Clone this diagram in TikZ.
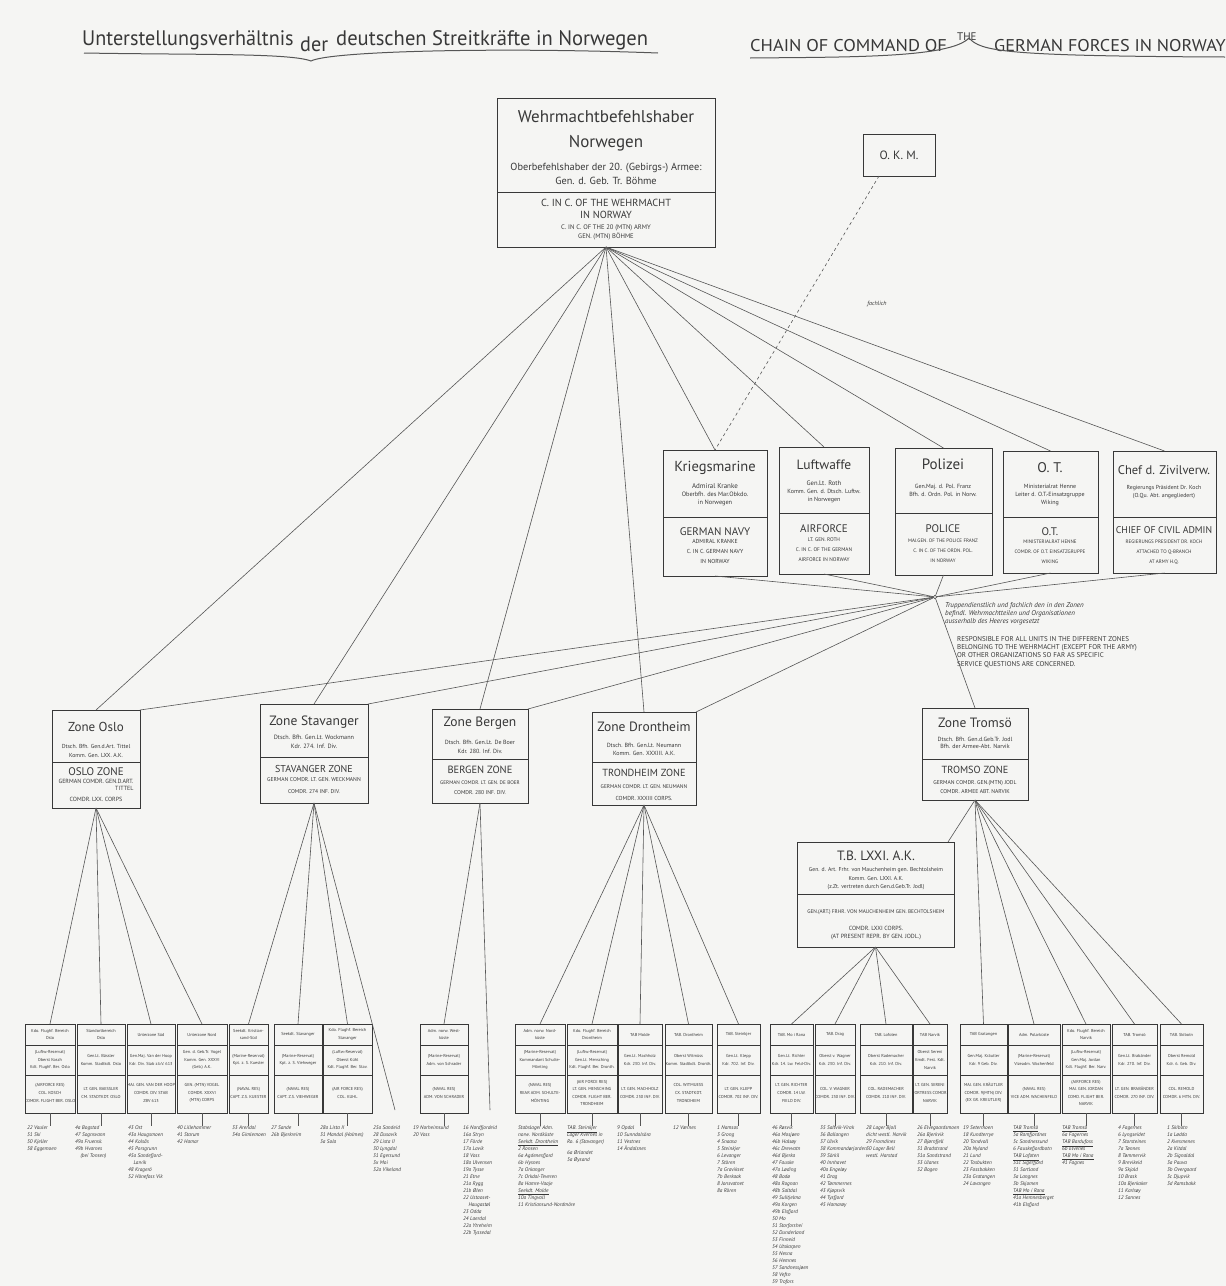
\documentclass[tikz,border=0pt]{standalone}
\usepackage{fontspec}
\setmainfont{PT Sans}
\usetikzlibrary{fit,calc}
\newcommand\fs[2]{\fontsize{#1}{#2}\selectfont}
\definecolor{ink}{HTML}{383838}
\definecolor{paper}{HTML}{F5F5F3}
\newcommand\bb[6]{%
 \pgfmathsetmacro\cx{(#2+#3)/2}%
 \node[bx, fit={(#2,1024) (#3,1113)}] (#1) {};
 \draw[dv] (#2,1045) -- (#3,1045);
 \draw[dv] (#2,1075) -- (#3,1075);
 \node[bt] (#1h) at (\cx,1034.5) {#4};
 \node[bt] (#1m) at (\cx,1060) {#5};
 \node[bt] (#1b) at (\cx,1093) {#6};
}
\begin{document}
\begin{tikzpicture}[x=1pt,y=-1pt,
 bx/.style={draw=ink, line width=0.75pt, inner sep=0pt, outer sep=0pt},
 dv/.style={draw=ink, line width=0.6pt},
 ln/.style={draw=ink!85, line width=0.6pt},
 txt/.style={text=ink, align=center, inner sep=0pt},
 bt/.style={text=ink, align=center, inner sep=0pt, font=\fs{4.3}{7.6}},
 lt/.style={text=ink, align=left, inner sep=0pt, anchor=north west, font=\fs{5.3}{7}\itshape},
 ttl/.style={text=ink, inner sep=0pt, anchor=base west}]
\fill[paper] (0,0) rectangle (1226,1286);
\useasboundingbox (0,0) rectangle (1226,1286);

% ---------- titles
\node[ttl, font=\fs{21}{22}] (t1) at (82,45) {\scalebox{0.96}[1]{Unterstellungsverhältnis}};
\node[ttl, font=\fs{21}{22}] (t2) at (300,51) {\scalebox{0.96}[1]{der}};
\node[ttl, font=\fs{21}{22}] (t3) at (336,45) {\scalebox{0.98}[1]{deutschen Streitkräfte in Norwegen}};
\draw[ln, line width=1pt] (84,53) .. controls (200,55) and (290,53) .. (311,61) .. controls (330,51) and (500,47) .. (658,53);
\node[ttl, font=\fs{17}{19}] (e1) at (750,51) {\scalebox{1.08}[1]{CHAIN OF COMMAND OF}};
\node[ttl, font=\fs{11}{12}] (e2) at (957,40) {THE};
\node[ttl, font=\fs{17}{19}] (e3) at (994,51) {\scalebox{1.07}[1]{GERMAN FORCES IN NORWAY}};
\draw[ln, line width=1pt] (750,58) .. controls (850,57) and (950,58) .. (969,38) .. controls (981,51) and (1000,56) .. (1225,57);

% ---------- top box
\node[bx, fit={(497,98) (715,247)}] (wb) {};
\draw[dv] (497,192) -- (715,192);
\node[txt, font=\fs{17}{25}] (wbt) at (606,131) {Wehrmachtbefehlshaber\\Norwegen};
\node[txt, font=\fs{10.3}{14}] (wbs) at (606,174) {Oberbefehlshaber der 20. (Gebirgs-) Armee:\\Gen. d. Geb. Tr. Böhme};
\node[txt, font=\fs{10.3}{12}] (wbe) at (606,208.5) {C. IN C. OF THE WEHRMACHT\\IN NORWAY};
\node[txt, font=\fs{6.6}{9}] (wbe2) at (606,232.5) {C. IN C. OF THE 20 (MTN) ARMY\\GEN. (MTN) BÖHME};

% ---------- OKM
\node[bx, fit={(863,134) (935,176)}] (okm) {};
\node[txt, font=\fs{12}{13}] (okmt) at (899,155) {O. K. M.};

% ---------- right boxes
\node[bx, fit={(663,450) (767,576)}] (km) {};
\draw[dv] (663,517) -- (767,517);
\node[txt, font=\fs{14.5}{15}] (kmt) at (715,468) {Kriegsmarine};
\node[txt, font=\fs{6.3}{8}] (kmg) at (715,495) {\fs{7}{8}Admiral Kranke\\Oberbfh. des Mar.Obkdo.\\in Norwegen};
\node[txt, font=\fs{11}{12}] (kme) at (715,532) {GERMAN NAVY};
\node[txt, font=\fs{5.8}{10}] (kme2) at (715,551) {ADMIRAL KRANKE\\C. IN C. GERMAN NAVY\\IN NORWAY};

\node[bx, fit={(779,447) (869,574)}] (lw) {};
\draw[dv] (779,513) -- (869,513);
\node[txt, font=\fs{13.5}{15}] (lwt) at (824,465) {Luftwaffe};
\node[txt, font=\fs{6}{8}] (lwg) at (824,492) {\fs{6.6}{8}Gen.Lt. Roth\\Komm. Gen. d. Dtsch. Luftw.\\in Norwegen};
\node[txt, font=\fs{11}{12}] (lwe) at (824,529) {AIRFORCE};
\node[txt, font=\fs{5.3}{10}] (lwe2) at (824,550) {LT. GEN. ROTH\\C. IN C. OF THE GERMAN\\AIRFORCE IN NORWAY};

\node[bx, fit={(895,448) (992,575)}] (pol) {};
\draw[dv] (895,513) -- (992,513);
\node[txt, font=\fs{15}{15}] (polt) at (943,464) {Polizei};
\node[txt, font=\fs{6}{8}] (polg) at (943,490) {Gen.Maj. d. Pol. Franz\\Bfh. d. Ordn. Pol. in Norw.};
\node[txt, font=\fs{11}{12}] (pole) at (943,529) {POLICE};
\node[txt, font=\fs{5}{10}] (pole2) at (943,551) {MAJ.GEN. OF THE POLICE FRANZ\\C. IN C. OF THE ORDN. POL.\\IN NORWAY};

\node[bx, fit={(1003,451) (1098,573)}] (ot) {};
\draw[dv] (1003,517) -- (1098,517);
\node[txt, font=\fs{14}{15}] (ott) at (1050,468) {O. T.};
\node[txt, font=\fs{6}{8}] (otg) at (1050,495) {Ministerialrat Henne\\Leiter d. O.T.-Einsatzgruppe\\Wiking};
\node[txt, font=\fs{11}{12}] (ote) at (1050,532) {O.T.};
\node[txt, font=\fs{5}{10}] (ote2) at (1050,552) {MINISTERIALRAT HENNE\\COMDR. OF O.T. EINSATZGRUPPE\\WIKING};

\node[bx, fit={(1113,451) (1216,573)}] (chef) {};
\draw[dv] (1113,517) -- (1216,517);
\node[txt, font=\fs{12.5}{15}] (cheft) at (1164,470) {Chef d. Zivilverw.};
\node[txt, font=\fs{5.8}{8}] (chefg) at (1164,492) {Regierungs Präsident Dr. Koch\\(O.Qu. Abt. angegliedert)};
\node[txt, font=\fs{9.8}{10}] (chefe) at (1164,530) {CHIEF OF CIVIL ADMIN};
\node[txt, font=\fs{5}{10}] (chefe2) at (1164,552) {REGIERUNGS PRESIDENT DR. KOCH\\ATTACHED TO Q-BRANCH\\AT ARMY H.Q.};

% ---------- hub 2 and its notes
\node[circle, draw=ink, fill=paper, inner sep=0pt, minimum size=3.5pt, line width=0.5pt] (hubB) at (935,597) {};
\node[txt, anchor=north west, align=left, font=\fs{7}{8.2}\itshape] (ger2) at (945,602) {Truppendienstlich und fachlich den in den Zonen\\befindl. Wehrmachtteilen und Organisationen\\ausserhalb des Heeres vorgesetzt};
\node[txt, anchor=north west, align=left, font=\fs{7}{8.4}] (eng2) at (957,636) {RESPONSIBLE FOR ALL UNITS IN THE DIFFERENT ZONES\\BELONGING TO THE WEHRMACHT (EXCEPT FOR THE ARMY)\\OR OTHER ORGANIZATIONS SO FAR AS SPECIFIC\\SERVICE QUESTIONS ARE CONCERNED.};
\node[txt, font=\fs{6}{6}\itshape] (fachl) at (877,304) {fachlich};

% ---------- zones
\node[bx, fit={(52,710) (140,808)}] (oslo) {};
\draw[dv] (52,762) -- (140,762);
\node[txt, font=\fs{13}{14}] (osloT) at (96,727) {Zone Oslo};
\node[txt, font=\fs{5.8}{9}] (osloG) at (96,750.5) {Dtsch. Bfh. Gen.d.Art. Tittel\\Komm. Gen. LXX. A.K.};
\node[txt, font=\fs{11}{11}] (osloE) at (96,772) {OSLO ZONE};
\node[txt, font=\fs{6}{6.5}, align=right] (osloE2) at (96,785) {GERMAN COMDR. GEN.D.ART.\\TITTEL};
\node[txt, font=\fs{6}{5}] (osloE3) at (96,799) {COMDR. LXX. CORPS};

\node[bx, fit={(260,704) (368,803)}] (stav) {};
\draw[dv] (260,757) -- (368,757);
\node[txt, font=\fs{13.5}{14}] (stavT) at (314,722) {Zone Stavanger};
\node[txt, font=\fs{6.2}{9}] (stavG) at (314,742) {Dtsch. Bfh. Gen.Lt. Wockmann\\Kdr. 274. Inf. Div.};
\node[txt, font=\fs{10}{10}] (stavE) at (314,769) {STAVANGER ZONE};
\node[txt, font=\fs{5.6}{5}] (stavE2) at (314,780) {GERMAN COMDR. LT. GEN. WECKMANN};
\node[txt, font=\fs{5.6}{5}] (stavE3) at (314,792) {COMDR. 274 INF. DIV.};

\node[bx, fit={(432,709) (528,803)}] (berg) {};
\draw[dv] (432,759) -- (528,759);
\node[txt, font=\fs{13.5}{14}] (bergT) at (480,723) {Zone Bergen};
\node[txt, font=\fs{6}{9}] (bergG) at (480,747) {Dtsch. Bfh. Gen.Lt. De Boer\\Kdr. 280. Inf. Div.};
\node[txt, font=\fs{10.5}{10}] (bergE) at (480,770) {BERGEN ZONE};
\node[txt, font=\fs{5.2}{5}] (bergE2) at (480,783) {GERMAN COMDR. LT. GEN. DE BOER};
\node[txt, font=\fs{5.6}{5}] (bergE3) at (480,793) {COMDR. 280 INF. DIV.};

\node[bx, fit={(592,712) (696,805)}] (dront) {};
\draw[dv] (592,762) -- (696,762);
\node[txt, font=\fs{13.5}{14}] (drontT) at (644,727) {Zone Drontheim};
\node[txt, font=\fs{6}{8}] (drontG) at (644,749) {Dtsch. Bfh. Gen.Lt. Neumann\\Komm. Gen. XXXIII. A.K.};
\node[txt, font=\fs{10.3}{10}] (drontE) at (644,773) {TRONDHEIM ZONE};
\node[txt, font=\fs{5.4}{5}] (drontE2) at (644,787) {GERMAN COMDR. LT. GEN. NEUMANN};
\node[txt, font=\fs{5.8}{5}] (drontE3) at (644,798) {COMDR. XXXIII CORPS.};

\node[bx, fit={(922,708) (1028,800)}] (trom) {};
\draw[dv] (922,759) -- (1028,759);
\node[txt, font=\fs{13.5}{14}] (tromT) at (975,723) {Zone Tromsö};
\node[txt, font=\fs{6}{7.5}] (tromG) at (975,743) {Dtsch. Bfh. Gen.d.Geb.Tr. Jodl\\Bfh. der Armee-Abt. Narvik};
\node[txt, font=\fs{10.3}{10}] (tromE) at (975,770) {TROMSO ZONE};
\node[txt, font=\fs{5.6}{9}] (tromE2) at (975,787) {GERMAN COMDR. GEN.(MTN) JODL\\COMDR. ARMEE ABT. NARVIK};

\node[bx, fit={(797,842) (954,947)}] (tb) {};
\draw[dv] (797,894) -- (954,894);
\node[txt, font=\fs{13.5}{14}] (tbT) at (876,856) {T.B. LXXI. A.K.};
\node[txt, font=\fs{5.7}{8.5}] (tbG) at (876,879) {Gen. d. Art. Frhr. von Mauchenheim gen. Bechtolsheim\\Komm. Gen. LXXI. A.K.\\(z.Zt. vertreten durch Gen.d.Geb.Tr. Jodl)};
\node[txt, font=\fs{5.3}{5}] (tbE) at (876,912) {GEN.(ART.) FRHR. VON MAUCHENHEIM GEN. BECHTOLSHEIM};
\node[txt, font=\fs{6}{8.5}] (tbE2) at (876,933) {COMDR. LXXI CORPS.\\(AT PRESENT REPR. BY GEN. JODL.)};

% ---------- bottom boxes
\bb{b1}{25}{75}{Kdo. Flughf. Bereich\\Oslo}{(Luftw.-Reservat)\\Oberst Kosch\\Kdt. Flughf. Ber. Oslo}{(AIRFORCE RES)\\COL. KOSCH\\COMDR. FLIGHT BER. OSLO}
\bb{b2}{77}{125}{Standortbereich\\Oslo}{Gen.Lt. Bässler\\Komm. Stadtkdt. Oslo}{LT. GEN. BAESSLER\\CM. STADTKDT. OSLO}
\bb{b3}{127}{175}{Unterzone Süd}{Gen.Maj. Van der Hoop\\Kdr. Div. Stab z.b.V. 613}{MAJ. GEN. VAN DER HOOP\\COMDR. DIV. STAB\\ZBV 613}
\bb{b4}{177}{227}{Unterzone Nord}{Gen. d. Geb.Tr. Vogel\\Komm. Gen. XXXVI\\(Geb.) A.K.}{GEN. (MTN) VOGEL\\COMDR. XXXVI\\(MTN) CORPS}
\bb{b5}{229}{268}{Seekdt. Kristian-\\sand-Süd}{(Marine-Reservat)\\Kpt. z. S. Kuester}{(NAVAL RES)\\CAPT. Z.S. KUESTER}
\bb{b6}{274}{322}{Seekdt. Stavanger}{(Marine-Reservat)\\Kpt. z. S. Viehweger}{(NAVAL RES)\\CAPT. Z.S. VIEHWEGER}
\bb{b7}{323}{372}{Kdo. Flughf. Bereich\\Stavanger}{(Luftw.-Reservat)\\Oberst Kühl\\Kdt. Flughf. Ber. Stav.}{(AIR FORCE RES)\\COL. KUHL}
\bb{b8}{420}{468}{Adm. norw. West-\\küste}{(Marine-Reservat)\\Adm. von Schrader}{(NAVAL RES)\\ADM. VON SCHRADER}
\bb{b9}{515}{565}{Adm. norw. Nord-\\küste}{(Marine-Reservat)\\Kommandant Schulte-\\Mönting}{(NAVAL RES)\\REAR ADM. SCHULTE-\\MÖNTING}
\bb{b10}{567}{617}{Kdo. Flughf. Bereich\\Drontheim}{(Luftw.-Reservat)\\Gen.Lt. Mensching\\Kdt. Flughf. Ber. Dronth.}{(AIR FORCE RES)\\LT. GEN. MENSCHING\\COMDR. FLIGHT BER.\\TRONDHEIM}
\bb{b11}{618}{662}{TAB Molde}{Gen.Lt. Machholz\\Kdr. 230. Inf. Div.}{LT. GEN. MACHHOLZ\\COMDR. 230 INF. DIV.}
\bb{b12}{665}{712}{TAB. Drontheim}{Oberst Witmüss\\Komm. Stadtkdt. Dronth.}{COL. WITMUESS\\CX. STADTKDT.\\TRONDHEIM}
\bb{b13}{717}{760}{TAB. Steinkjer}{Gen.Lt. Klepp\\Kdr. 702. Inf. Div.}{LT. GEN. KLEPP\\COMDR. 702 INF. DIV.}
\bb{b14}{770}{813}{TAB. Mo i Rana}{Gen.Lt. Richter\\Kdr. 14. Lw. Feld-Div.}{LT. GEN. RICHTER\\COMDR. 14 LW.\\FIELD DIV.}
\bb{b15}{815}{855}{TAB. Drag}{Oberst v. Wagner\\Kdr. 230. Inf. Div.}{COL. V. WAGNER\\COMDR. 230 INF. DIV.}
\bb{b16}{860}{912}{TAB. Lofoten}{Oberst Rademacher\\Kdr. 210. Inf. Div.}{COL. RADEMACHER\\COMDR. 210 INF. DIV.}
\bb{b17}{913}{947}{TAB Narvik}{Oberst Sereni\\Kmdt. Fest. Kdt.\\Narvik}{LT. GEN. SERENI\\FORTRESS COMDR.\\NARVIK}
\bb{b18}{960}{1007}{TAB Gratangen}{Gen.Maj. Kräutler\\Kdr. 9 Geb. Div.}{MAJ. GEN. KRÄUTLER\\COMDR. 9(MTN) DIV.\\(EX GR. KREUTLER)}
\bb{b19}{1008}{1060}{Adm. Polarküste}{(Marine-Reservat)\\Vizeadm. Wachenfeld}{(NAVAL RES)\\VICE ADM. WACHENFELD}
\bb{b20}{1062}{1110}{Kdo. Flughf. Bereich\\Narvik}{(Luftw.-Reservat)\\Gen.Maj. Jordan\\Kdt. Flughf. Ber. Narv.}{(AIRFORCE RES)\\MAJ. GEN. JORDAN\\COMD. FLIGHT BER.\\NARVIK}
\bb{b21}{1112}{1157}{TAB. Tromsö}{Gen.Lt. Brabänder\\Kdr. 270. Inf. Div.}{LT. GEN. BRABÄNDER\\COMDR. 270 INF. DIV.}
\bb{b22}{1160}{1203}{TAB. Skibotn}{Oberst Remold\\Kdr. 6. Geb. Div.}{COL. REMOLD\\COMDR. 6 MTN. DIV.}

% ---------- lists
\node[lt] (l1) at (27,1126) {22 Vauler\\51 Ski\\50 Kjeller\\58 Eggemoen};
\node[lt] (l2) at (75,1126) {4a Bogstad\\47 Sognsvann\\49a Fruensk.\\49b Hvarnes\\\quad(bei Tonsen)};
\node[lt] (l3) at (128,1126) {43 Ost\\43a Haugsmoen\\44 Kolsås\\45 Porsgrunn\\45a Sandefjord-\\\quad Larvik\\48 Kragerö\\52 Hönefoss Vik};
\node[lt] (l4) at (177,1126) {40 Lillehammer\\41 Starum\\42 Hamar};
\node[lt] (l5) at (232,1126) {33 Arendal\\34a Gimlemoen};
\node[lt] (l6) at (271,1126) {27 Sande\\26b Bjerkreim};
\node[lt] (l7) at (320,1126) {28a Lista II\\31 Mandal (Holmes)\\3a Sola};
\node[lt] (l7b) at (373,1126) {25a Sandeid\\28 Dusavik\\29 Lista II\\30 Lyngdal\\31 Egersund\\3x Moi\\32a Vikeland};
\node[lt] (l8) at (413,1126) {19 Norheimsund\\20 Voss};
\node[lt] (l8b) at (463,1126) {16 Nordfjordeid\\16a Stryn\\17 Förde\\17a Lavik\\18 Voss\\18a Ulvensen\\19a Tysse\\21 Etne\\21a Rygg\\21b Ølen\\22 Ustaoset-\\\quad Haugastøl\\23 Odda\\24 Laerdal\\22a Ytreheim\\22b Tyssedal};
\node[lt] (l9) at (518,1126) {Stabslager Adm.\\norw. Nordküste\\\underline{Seekdt. Drontheim}\\2 Ronsen\\6a Agdenesfjord\\6b Hysnes\\7a Orkanger\\7c Orkdal-Teveren\\8a Hamre-Vaaje\\\underline{Seekdt. Molde}\\10a Tingvoll\\11 Kristiansund-Nordmöre};
\node[lt] (l10) at (567,1126) {\underline{TAB. Steinkjer}\\Lager Kvernes in\\Ro. 6 (Stavanger)\\[4pt]6a Ørlandet\\5a Øysand};
\node[lt] (l11) at (617,1126) {9 Opdal\\10 Sunndalsöra\\11 Vestnes\\14 Åndalsnes};
\node[lt] (l12) at (673,1126) {12 Værnes};
\node[lt] (l13) at (717,1126) {1 Namsos\\3 Grong\\4 Snaasa\\5 Steinkjer\\6 Levanger\\7 Stören\\7a Gravikset\\7b Berkaak\\8 Jonsvatnet\\8a Rören};
\node[lt] (l14) at (772,1126) {46 Røsvik\\46a Mosjøen\\46b Halsøy\\46c Drevvatn\\46d Bjerka\\47 Fauske\\47a Løding\\48 Bodø\\48a Rognan\\48b Saltdal\\49 Sulitjelma\\49a Korgen\\49b Elsfjord\\50 Mo\\51 Storforshei\\52 Dunderland\\53 Finneid\\54 Utskarpen\\55 Nesna\\56 Hemnes\\57 Sandnessjøen\\58 Vefsn\\59 Trofors};
\node[lt] (l15) at (820,1126) {35 Saltvik-Virak\\36 Ballangen\\37 Ulvik\\38 Kommandørjorden\\39 Sörkil\\40 Innhavet\\40a Engeløy\\41 Drag\\42 Tømmernes\\43 Kjøpsvik\\44 Tysfjord\\45 Hamarøy};
\node[lt] (l16) at (866,1126) {28 Lager Bjoll\\dicht westl. Narvik\\29 Fromdines\\30 Lager Bell\\westl. Harstad};
\node[lt] (l17) at (917,1126) {26 Elvegaardsmoen\\26a Bjerkvik\\27 Bjørnfjell\\31 Bradstrand\\31a Sandstrand\\33 Ulanes\\32 Bogen};
\node[lt] (l18) at (963,1126) {19 Setermoen\\18 Kundterrye\\20 Tondvoll\\20a Nyland\\21 Lund\\22 Tosbukten\\23 Fossbakken\\23a Gratangen\\24 Lavangen};
\node[lt] (l19) at (1013,1126) {\underline{TAB Tromsö}\\5a Ramfjordnes\\5c Sandnessund\\6 Fauskefjordbotn\\\underline{TAB Lofoten}\\31c Sigerfjord\\31 Sortland\\3a Langnes\\3b Skjomen\\\underline{TAB Mo i Rana}\\41a Hemnesberget\\41b Elsfjord};
\node[lt] (l20) at (1062,1126) {\underline{TAB Tromsö}\\6a Fagernes\\\underline{TAB Bardufoss}\\6b Elvenes\\\underline{TAB Mo i Rana}\\41 Fagnes};
\node[lt] (l21) at (1118,1126) {4 Fagernes\\6 Lyngseidet\\7 Storsteines\\7a Tønnes\\8 Tømmervik\\9 Brevikeid\\9a Skjold\\10 Brask\\10a Bjerkaker\\11 Karlsøy\\12 Sannes};
\node[lt] (l22) at (1167,1126) {1 Skibotn\\1a Lødda\\2 Kvesmenes\\2a Kitdal\\2b Signaldal\\3a Pauva\\3b Overgaard\\3c Djupvik\\3d Ramsbakk};

\coordinate (sEnd) at (395,1110);
\coordinate (bEnd) at (490,1110);

% ---------- connectors
\draw[dashed, ln] (okm.south west) ++(16,0) coordinate (okmA) (okmA) -- (km.north);
\foreach \t in {oslo,stav,berg,dront,km,lw,pol,ot,chef} \draw[ln] (wb.south) -- (\t.north);
\foreach \t in {km,lw,pol,ot,chef} \draw[ln] (\t.south) -- (hubB);
\foreach \t in {oslo,stav,berg,dront} \draw[ln] (hubB) -- (\t.north east);
\draw[ln] (hubB) -- (trom.north);
\foreach \t in {b1,b2,b3,b4} \draw[ln] (oslo.south) -- (\t.north);
\foreach \t in {b5,b6,b7} \draw[ln] (stav.south) -- (\t.north);
\draw[ln] (stav.south) -- (sEnd);
\draw[ln] (berg.south) -- (b8.north);
\draw[ln] (berg.south) -- (bEnd);
\foreach \t in {b9,b10,b11,b12,b13} \draw[ln] (dront.south) -- (\t.north);
\foreach \t in {b14,b15,b16,b17} \draw[ln] (tb.south) -- (\t.north);
\draw[ln] (trom.south) -- ($(tb.north east)+(-6,0)$);
\foreach \t in {b18,b19,b20,b21,b22} \draw[ln] (trom.south) -- (\t.north);
\foreach \i in {1,...,22} \draw[ln] (b\i.south) -- (b\i.south |- l\i.north);
\end{tikzpicture}
\end{document}
